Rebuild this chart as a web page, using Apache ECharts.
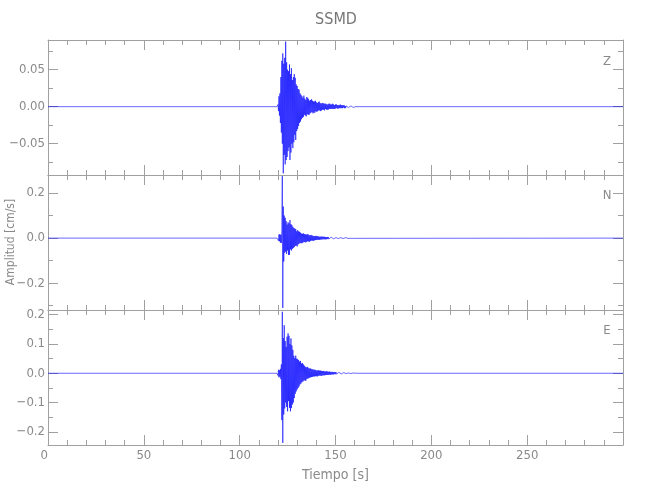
<!DOCTYPE html>
<html>
<head>
<meta charset="utf-8">
<script src="https://cdn.jsdelivr.net/npm/echarts@6/dist/echarts.min.js"></script>
<style>html,body{margin:0;padding:0;background:#fff}#c{width:650px;height:500px}</style>
</head>
<body>
<div id="c"></div>
<script>
// ---- data (amplitudes in 10^-3 cm/s, sampled every DT seconds from T0) ----
const T0 = 119.5, DT = 0.25;
const recordStart = 0, recordEnd = 300;
const components = ['Z', 'N', 'E'];
const zMilli = [
 0,1,
 3,-6,14,-12, 18,-22,40,-35, 62,-50,72,-90, 58,-65,66,-78, 88,-72,60,-68,
 50,-60,48,-55, 57,-72,44,-62, 52,-50,36,-56, 40,-48,44,-38, 39,-45,30,-33,
 28,-30,24,-26, 23,-22,18,-20, 16,-17,14,-15, 12,-14,15,-11, 11,-12,9,-13,
 13,-10,12,-11, 10,-11,8,-9, 9,-8,10,-7, 8,-9,7,-8, 7,-8,8,-6,
 6,-7,5,-6, 6,-5,7,-5, 5,-6,4,-5, 5,-4,5,-4, 4,-5,4,-3,
 4,-4,3,-4, 3,-4,4,-3, 4,-3,3,-3, 3,-3,4,-3, 3,-3,2,-3,
 3,-2,3,-2, 2,-3,2,-2, 2,-2,3,-2, 2,-2,2,-2, 2,-1,2,-2,
 1,-2,1,-1, 2,-1,1,-1, 1,-1,1,-1, 1,-1,1,-1, 1,-1,1,-1, 1,-1,0,0
];
const nMilli = [
 0,0,
 5,-12,16,-14, 18,-20,14,-22, 40,275,-310,140, -104,100,-65,90, -60,75,-70,60,
 -55,70,-75,65, -74,80,-50,62, -55,58,-48,50, -44,45,-40,42, -35,40,-33,30,
 -37,35,-28,30, -25,28,-22,24, -22,20,-23,19, -20,21,-17,18, -18,17,-19,15,
 -16,18,-14,16, -15,13,-16,12, -12,14,-11,12, -11,10,-12,9, -10,9,-9,10,
 -8,9,-7,8, -8,7,-8,6, -7,6,-6,7, -6,6,-5,6, -5,6,-6,5,
 -5,4,-5,5, -4,5,-4,4, -4,3,-4,4, -3,4,-3,3, -3,3,-4,3,
 -3,2,-3,3, -2,3,-2,2, -2,2,-2,2, -2,2,-1,2, -2,1,-2,1,
 -1,2,-1,1, -1,1,-1,1, -1,1,-1,1, -1,1,-1,1, -1,1,-1,1, -1,1,0,0
];
const eMilli = [
 0,1,
 -8,12,-14,10, -12,15,-20,30, -160,210,-238,120, -141,164,-120,110, -100,90,-115,125,
 -130,136,-95,128, -118,100,-130,119, -119,95,-107,80, -100,60,-85,52, -70,60,-62,50,
 -55,48,-50,45, -45,40,-38,42, -35,33,-30,35, -28,30,-25,26, -24,22,-26,20,
 -20,22,-18,19, -17,16,-15,17, -14,15,-13,14, -12,13,-11,12, -11,12,-10,11,
 -10,9,-11,10, -9,10,-8,9, -8,9,-9,8, -8,7,-7,8, -7,6,-7,6,
 -6,7,-6,6, -6,5,-5,6, -5,5,-5,4, -4,5,-4,4, -4,4,-3,4,
 -3,4,-3,3, -3,3,-3,3, -3,2,-3,2, -2,3,-2,2, -2,2,-2,2,
 -2,2,-1,2, -1,2,-1,1, -1,1,-1,1, -1,1,-1,1, -1,1,-1,1, -1,1,0,0
];
const traces = [zMilli, nMilli, eMilli];
// axis ranges and tick values
const yRanges = [[-0.0923, 0.0901], [-0.319, 0.28], [-0.245, 0.216]];
const yMajor = [[-0.05, 0, 0.05], [-0.2, 0, 0.2], [-0.2, -0.1, 0, 0.1, 0.2]];
const yMinor = [[-0.075, -0.025, 0.025, 0.075], [-0.3, -0.1, 0.1], [-0.15, -0.05, 0.05, 0.15]];
const yDecimals = [2, 1, 1];
const xTicks = {min: 0, max: 300, interval: 50};

// ---- chart ----
const FONT = '"Liberation Sans Narrow", "DejaVu Sans Condensed", sans-serif';
const AX = '#a0a0a0', TX = '#8a8a8a';
const grids = [
  {left: 48, right: 27, top: 40, height: 135, outerBoundsMode: 'none', containLabel: false},
  {left: 48, right: 27, top: 175, height: 135, outerBoundsMode: 'none', containLabel: false},
  {left: 48, right: 27, top: 310, height: 135, outerBoundsMode: 'none', containLabel: false}
];
const xAxis = [], yAxis = [], series = [];
grids.forEach((g, i) => {
  ['bottom', 'top'].forEach(pos => {
    const isLabel = (pos === 'bottom' && i === 2);
    xAxis.push({
      type: 'value', gridIndex: i, position: pos,
      min: xTicks.min, max: xTicks.max, interval: xTicks.interval,
      axisLine: {show: true, onZero: false, lineStyle: {color: AX, width: 1}},
      axisTick: {show: true, inside: true, length: 10, lineStyle: {color: AX}},
      minorTick: {show: true, splitNumber: 5, length: 5, lineStyle: {color: AX}},
      splitLine: {show: false},
      axisLabel: {show: isLabel, showMaxLabel: false, alignMinLabel: 'right', margin: 4,
        color: TX, fontFamily: FONT, fontSize: 13},
      name: isLabel ? 'Tiempo [s]' : '', nameLocation: 'middle', nameGap: 23,
      nameTextStyle: {color: TX, fontFamily: FONT, fontSize: 14}
    });
  });
  ['left', 'right'].forEach(pos => {
    const showLab = pos === 'left';
    yAxis.push({
      type: 'value', gridIndex: i, position: pos,
      min: yRanges[i][0], max: yRanges[i][1],
      axisLine: {show: true, onZero: false, lineStyle: {color: AX, width: 1}},
      axisTick: {show: true, inside: true, length: 10, customValues: yMajor[i], lineStyle: {color: AX}},
      splitLine: {show: false},
      axisLabel: {show: showLab, customValues: yMajor[i], margin: 3, color: TX, fontFamily: FONT, fontSize: 13,
        formatter: v => (v < 0 ? '\u2212' : '') + Math.abs(v).toFixed(yDecimals[i])}
    });
    yAxis.push({
      type: 'value', gridIndex: i, position: pos,
      min: yRanges[i][0], max: yRanges[i][1],
      axisLine: {show: false, onZero: false},
      axisTick: {show: true, inside: true, length: 5, customValues: yMinor[i], lineStyle: {color: AX}},
      splitLine: {show: false},
      axisLabel: {show: false}
    });
  });
  const pts = [[recordStart, 0]];
  traces[i].forEach((v, k) => pts.push([T0 + k * DT, v / 1000]));
  pts.push([recordEnd, 0]);
  series.push({
    type: 'line', xAxisIndex: 2 * i, yAxisIndex: 4 * i, data: pts,
    showSymbol: false, symbol: 'none', clip: true,
    lineStyle: {color: '#0000ff', width: 0.7, opacity: 0.85}
  });
});

const chart = echarts.init(document.getElementById('c'), null, {renderer: 'canvas'});
chart.setOption({
  animation: false,
  backgroundColor: '#fff',
  grid: grids,
  xAxis, yAxis, series,
  graphic: [
    {type: 'text', x: 336, y: 20, style: {text: 'SSMD', fill: '#777', font: '16px ' + FONT, align: 'center', verticalAlign: 'middle'}},
    {type: 'text', x: 11, y: 242, rotation: Math.PI / 2, style: {text: 'Amplitud [cm/s]', fill: TX, font: '12px ' + FONT, align: 'center', verticalAlign: 'middle'}},
    {type: 'text', x: 607, y: 62, style: {text: components[0], fill: TX, font: '13px ' + FONT, align: 'center', verticalAlign: 'middle'}},
    {type: 'text', x: 607, y: 196, style: {text: components[1], fill: TX, font: '13px ' + FONT, align: 'center', verticalAlign: 'middle'}},
    {type: 'text', x: 607, y: 331, style: {text: components[2], fill: TX, font: '13px ' + FONT, align: 'center', verticalAlign: 'middle'}}
  ]
});
</script>
</body>
</html>
